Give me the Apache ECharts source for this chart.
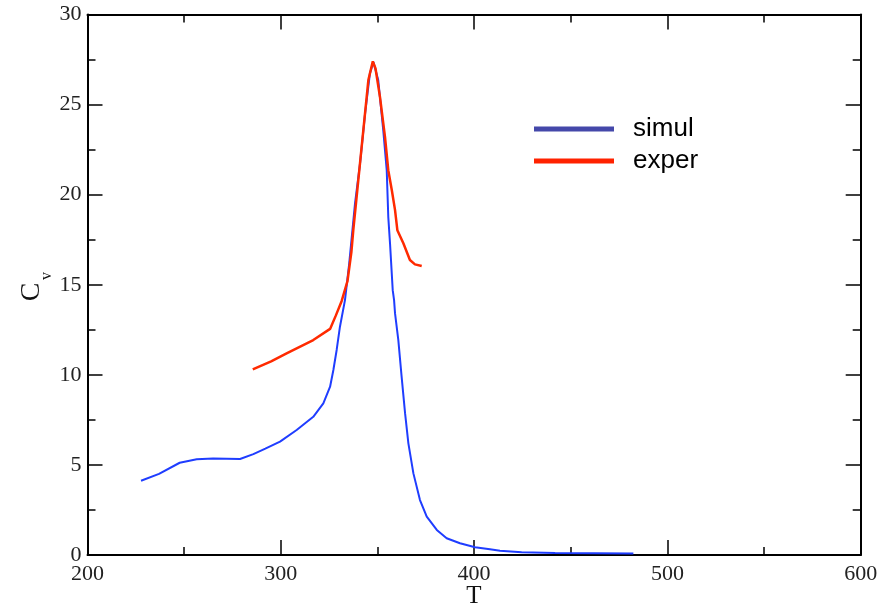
<!DOCTYPE html>
<html><head><meta charset="utf-8">
<script src="https://cdn.jsdelivr.net/npm/echarts@6/dist/echarts.min.js"></script>
<style>html,body{margin:0;padding:0;background:#fff}#c{width:896px;height:610px}</style>
</head><body><div id="c"></div>
<script>
var simulT = [227.7,237,247.7,256.5,265,278.9,285.8,292,299.6,308.2,316.8,322,325.5,327.2,328.9,330.6,333.2,335.4,338.4,341.0,343.6,346.1,347.9,350.4,353.0,354.8,355.6,356.5,357.9,358.6,359.1,360.8,362.5,364.3,366.0,368.6,372.0,375.5,380.7,385.8,392.7,400.5,408.2,413.4,424.6,441.9,482.4];
var simulCv = [4.12,4.5,5.12,5.31,5.35,5.33,5.6,5.9,6.29,6.94,7.67,8.42,9.34,10.27,11.38,12.67,14.15,16.19,19.52,21.74,24.5,26.73,27.37,26.36,23.58,21.36,18.77,17.3,14.7,14.15,13.41,11.93,9.9,7.86,6.2,4.53,3.05,2.13,1.39,0.93,0.65,0.43,0.32,0.24,0.15,0.11,0.09];
var experT = [285.5,295,303.0,316.8,325.5,328.5,331.5,334.5,336.5,337.5,340.1,342.7,345.3,347.6,349.0,351.3,353.9,355.6,357.5,359.1,360.3,363.4,366.8,369.4,372.9];
var experCv = [10.30,10.75,11.19,11.93,12.55,13.3,14.1,15.2,16.8,18.03,20.81,23.58,26.36,27.4,27.0,25.43,23.21,21.36,20.2,19.14,18.03,17.3,16.37,16.13,16.04];
var xTicks = {min:200, max:600, step:100};
var yTicks = {min:0, max:30, step:5};
var seriesNames = ['simul','exper'];

function pairs(a,b){return a.map(function(v,i){return [v,b[i]];});}
var chart = echarts.init(document.getElementById('c'), null, {renderer:'canvas'});
var axisCommon = {
  axisLine:{show:true, onZero:false, lineStyle:{color:'#000', width:2}},
  axisTick:{show:true, inside:true, length:15, lineStyle:{color:'#000', width:1.5}},
  minorTick:{show:true, splitNumber:2, length:8, lineStyle:{color:'#000', width:1.5}},
  splitLine:{show:false}
};
function ax(extra){return Object.assign({}, JSON.parse(JSON.stringify(axisCommon)), extra);}
var labelFont = {fontFamily:'Liberation Serif', fontSize:22, color:'#222'};
chart.setOption({
  animation:false,
  grid:{left:87.5, right:35.3, top:14.5, bottom:55},
  legend:{
    left:534, top:116, padding:0, orient:'vertical', icon:'rect', itemWidth:80, itemHeight:5, itemGap:6,
    textStyle:{fontFamily:'Liberation Sans', fontSize:26, color:'#000', lineHeight:26, padding:[0,0,0,14]},
    data:[{name:seriesNames[0], itemStyle:{color:'#4448aa'}},{name:seriesNames[1], itemStyle:{color:'#ff2200'}}]
  },
  xAxis:[
    ax({type:'value', min:xTicks.min, max:xTicks.max, interval:xTicks.step, position:'bottom',
      axisLabel:Object.assign({margin:8}, labelFont)}),
    ax({type:'value', min:xTicks.min, max:xTicks.max, interval:xTicks.step, position:'top', axisLabel:{show:false}})
  ],
  yAxis:[
    ax({type:'value', min:yTicks.min, max:yTicks.max, interval:yTicks.step, position:'left',
      axisLabel:Object.assign({margin:6}, labelFont)}),
    ax({type:'value', min:yTicks.min, max:yTicks.max, interval:yTicks.step, position:'right', axisLabel:{show:false}})
  ],
  graphic:[
    {type:'text', x:474, y:596, style:{text:'T', font:'25px "Liberation Serif"', fill:'#111', textAlign:'center', textVerticalAlign:'middle'}},
    {type:'text', x:32, y:292, rotation:Math.PI/2, style:{text:'C', font:'28px "Liberation Serif"', fill:'#111', textAlign:'center', textVerticalAlign:'middle'}},
    {type:'text', x:47, y:276, rotation:Math.PI/2, style:{text:'v', font:'16px "Liberation Serif"', fill:'#111', textAlign:'center', textVerticalAlign:'middle'}}
  ],
  series:[
    {name:seriesNames[0], type:'line', xAxisIndex:0, yAxisIndex:0, showSymbol:false, data:pairs(simulT, simulCv),
      lineStyle:{color:'#1f3dff', width:2}, itemStyle:{color:'#1f3dff'}},
    {name:seriesNames[1], type:'line', xAxisIndex:0, yAxisIndex:0, showSymbol:false, data:pairs(experT, experCv),
      lineStyle:{color:'#ff2a00', width:2.5}, itemStyle:{color:'#ff2a00'}}
  ]
});
</script></body></html>
